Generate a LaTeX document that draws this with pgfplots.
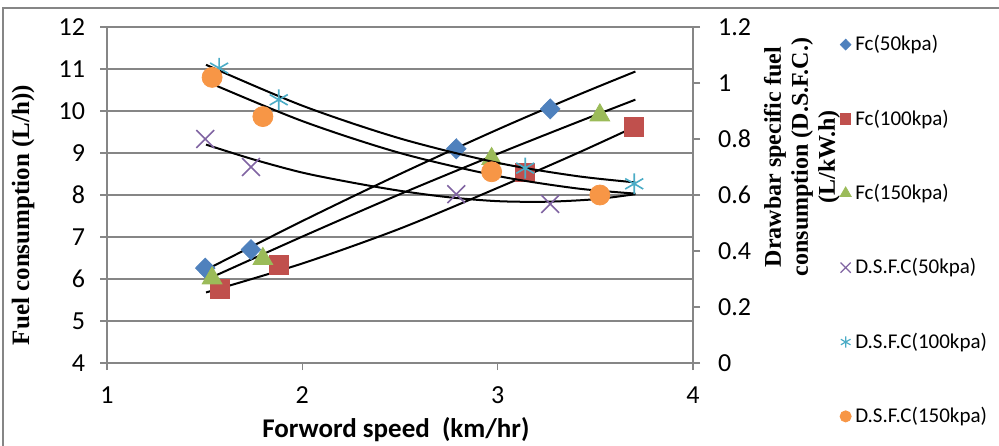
\documentclass[border=0pt]{standalone}
\usepackage{pgfplots}
\pgfplotsset{compat=1.18}
\usepackage{fontspec}
\setmainfont{Liberation Serif}
\newfontfamily\calibri{Carlito}
\definecolor{cB}{HTML}{4F81BD}
\definecolor{cR}{HTML}{C0504D}
\definecolor{cG}{HTML}{9BBB59}
\definecolor{cP}{HTML}{8064A2}
\definecolor{cA}{HTML}{4BACC6}
\definecolor{cO}{HTML}{F79646}
\definecolor{gridgray}{HTML}{868686}

\pgfplotsset{
  base/.style={
    at={(53.5pt,41pt)}, anchor=south west,
    scale only axis, width=293pt, height=168pt,
    xmin=1, xmax=4,
    axis line style={gridgray, line width=0.75pt},
    tick style={gridgray, line width=0.75pt},
    tick align=outside, major tick length=3.5pt,
    /pgf/number format/assume math mode=true,
    ticklabel style={font=\calibri\fontsize{13}{14}\selectfont, text=black},
  },
}

\begin{document}
\begin{tikzpicture}
\useasboundingbox (0,0) rectangle (499.5pt,222.5pt);
\draw[gridgray, line width=0.75pt] (1.5pt,-5pt) -- (1.5pt,218.5pt) -- (505pt,218.5pt);

\begin{axis}[base,
  ymin=4, ymax=12,
  xtick={1,2,3,4}, ytick={4,5,6,7,8,9,10,11,12},
  xtick pos=bottom, ytick pos=left,
  ymajorgrids, grid style={gridgray, line width=0.75pt},
  yticklabel style={xshift=-4pt},
  xticklabel style={yshift=-5pt},
  xlabel={\calibri\bfseries\fontsize{13.5}{15}\selectfont Forword speed\ \ (km/hr)},
  xlabel style={at={(axis description cs:0.493,-0.199)}, anchor=center},
  ylabel={\bfseries\fontsize{12.5}{14}\selectfont Fuel consumption (L/h))},
  ylabel style={at={(axis description cs:-0.143,0.44)}, anchor=center},
]
% Fc (50 kPa)
\addplot[only marks, mark=diamond*, mark size=5pt, mark options={xscale=1.3}, color=cB, forget plot]
  coordinates {(1.503,6.26) (1.737,6.70) (2.788,9.10) (3.269,10.05)};
% Fc (100 kPa)
\addplot[only marks, mark=square*, mark size=4.7pt, color=cR, forget plot]
  coordinates {(1.578,5.76) (1.879,6.33) (3.141,8.54) (3.699,9.63)};
% Fc (150 kPa)
\addplot[only marks, mark=triangle*, mark size=5.7pt, color=cG, forget plot]
  coordinates {(1.538,6.02) (1.798,6.48) (2.969,8.86) (3.523,9.90)};
% trendlines
\addplot[black, line width=1pt, smooth, forget plot]
  coordinates {(1.507,6.22) (2.0,7.38) (2.5,8.50) (3.0,9.56) (3.4,10.36) (3.705,10.94)};
\addplot[black, line width=1pt, smooth, forget plot]
  coordinates {(1.507,5.98) (2.0,7.01) (2.5,8.02) (3.0,8.98) (3.4,9.72) (3.705,10.27)};
\addplot[black, line width=1pt, smooth, forget plot]
  coordinates {(1.507,5.68) (2.0,6.37) (2.5,7.20) (3.0,8.17) (3.4,8.98) (3.705,9.63)};
\end{axis}

\begin{axis}[base, clip=false,
  ymin=0, ymax=1.2,
  axis x line=none, axis y line*=right,
  ytick={0,0.2,0.4,0.6,0.8,1,1.2},
  yticklabel style={xshift=5.5pt},
  legend style={at={(axis description cs:1.24,1.0)}, anchor=north west,
    draw=none, fill=none, row sep=24pt,
    font=\calibri\fontsize{10.5}{12}\selectfont},
  legend cell align=left,
  legend image code/.code={\draw[#1] plot coordinates {(0pt,0pt)};},
]
\addlegendimage{only marks, mark=diamond*, mark size=2.7pt, mark options={xscale=1.3}, color=cB}
\addlegendentry{Fc(50kpa)}
\addlegendimage{only marks, mark=square*, mark size=2.6pt, color=cR}
\addlegendentry{Fc(100kpa)}
\addlegendimage{only marks, mark=triangle*, mark size=3.2pt, color=cG}
\addlegendentry{Fc(150kpa)}
\addlegendimage{only marks, mark=x, mark size=3.6pt, line width=0.6pt, color=cP}
\addlegendentry{D.S.F.C(50kpa)}
\addlegendimage{only marks, mark=asterisk, mark size=2.8pt, line width=0.6pt, color=cA}
\addlegendentry{D.S.F.C(100kpa)}
\addlegendimage{only marks, mark=*, mark size=2.8pt, color=cO}
\addlegendentry{D.S.F.C(150kpa)}

% D.S.F.C (50 kPa)
\addplot[only marks, mark=x, mark size=6.3pt, line width=0.8pt, color=cP, forget plot]
  coordinates {(1.503,0.80) (1.737,0.70) (2.788,0.603) (3.269,0.568)};
% D.S.F.C (100 kPa)
\addplot[only marks, mark=asterisk, mark size=5.2pt, line width=0.8pt, color=cA, forget plot]
  coordinates {(1.574,1.053) (1.879,0.94) (3.141,0.696) (3.699,0.64)};
% D.S.F.C (150 kPa)
\addplot[only marks, mark=*, mark size=5pt, color=cO, forget plot]
  coordinates {(1.538,1.02) (1.798,0.88) (2.969,0.683) (3.523,0.60)};
% trendlines
\addplot[black, line width=1pt, smooth, forget plot]
  coordinates {(1.507,1.065) (2.0,0.919) (2.5,0.802) (3.0,0.715) (3.4,0.668) (3.705,0.645)};
\addplot[black, line width=1pt, smooth, forget plot]
  coordinates {(1.507,1.006) (2.0,0.864) (2.5,0.750) (3.0,0.668) (3.4,0.624) (3.705,0.605)};
\addplot[black, line width=1pt, smooth, forget plot]
  coordinates {(1.507,0.780) (1.75,0.727) (2.0,0.680) (2.25,0.645) (2.5,0.615) (2.75,0.592) (3.0,0.578) (3.25,0.576) (3.5,0.585) (3.705,0.603)};

\node[rotate=90, align=center, font=\bfseries\fontsize{12}{13.5}\selectfont]
  at (axis description cs:1.186,0.613)
  {Drawbar specific fuel\\ consumption (D.S.F.C.)\\ (L/kW.h)};
\end{axis}
\end{tikzpicture}
\end{document}
